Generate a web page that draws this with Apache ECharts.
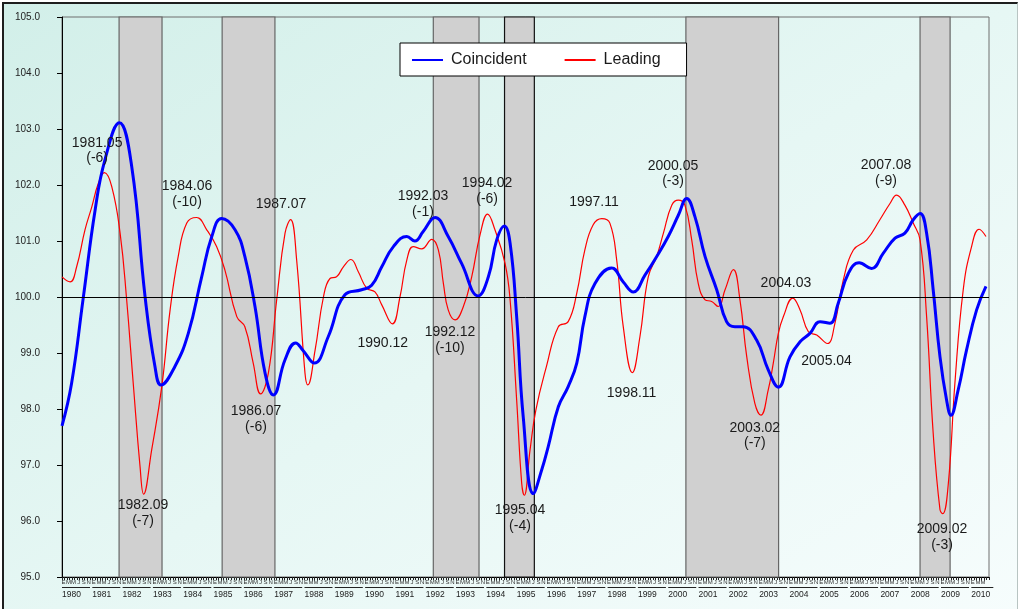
<!DOCTYPE html>
<html>
<head>
<meta charset="utf-8">
<script src="https://cdn.jsdelivr.net/npm/echarts@6/dist/echarts.min.js"></script>
<style>
  html, body { margin: 0; padding: 0; background: #ffffff; }
  #frame {
    position: absolute; left: 2px; top: 2px; width: 1013px; height: 640px;
    border-left: 2px solid #1e1e1e; border-top: 2px solid #1e1e1e; border-right: 1px solid #b8c4c2;
    background: linear-gradient(to bottom right, #d2efe9 0%, #e6f7f4 50%, #f7fdfd 100%);
  }
  #chart { position: absolute; left: 0; top: 0; width: 1019px; height: 609px; }
</style>
</head>
<body>
<div id="frame"></div>
<div id="chart"></div>
<script>
// Months counted from January 1980 (0 = Jan 1980)
const coincidentMonths = [0, 3.8, 8.4, 13.1, 17.0, 22.7, 27.6, 32.9, 36.8, 39.2, 44.7, 50.0, 55.3, 59.3, 63.2, 68.5, 72.4, 76.4, 80.4, 83.7, 88.3, 92.5, 95.5, 99.9, 105.4, 112.0, 118.6, 122.6, 126.6, 131.2, 136.5, 139.7, 143.0, 147.7, 152.9, 158.2, 164.8, 168.8, 172.1, 175.1, 177.4, 180.0, 182.6, 186.6, 189.9, 192.5, 196.5, 200.4, 203.8, 207.0, 211.0, 217.6, 222.2, 226.2, 230.8, 235.4, 240.0, 244.0, 247.3, 250.6, 254.6, 259.2, 263.1, 266.4, 269.7, 275.0, 279.6, 283.6, 288.2, 292.2, 296.1, 300.1, 304.0, 307.3, 311.3, 315.6, 320.5, 325.1, 329.8, 333.7, 337.0, 339.7, 342.3, 344.9, 347.6, 350.2, 351.9, 354.8, 358.1, 362.1, 365.8];
const coincidentValues = [97.70, 98.46, 99.98, 101.55, 102.45, 103.11, 102.33, 100.00, 98.76, 98.43, 98.76, 99.35, 100.36, 101.08, 101.40, 101.20, 100.72, 99.83, 98.64, 98.25, 98.88, 99.18, 99.04, 98.82, 99.29, 100.04, 100.13, 100.21, 100.54, 100.90, 101.08, 101.00, 101.17, 101.42, 101.08, 100.60, 100.02, 100.36, 101.02, 101.27, 100.96, 99.65, 97.86, 96.49, 96.91, 97.33, 98.04, 98.40, 98.82, 99.65, 100.24, 100.52, 100.27, 100.09, 100.39, 100.72, 101.08, 101.46, 101.76, 101.43, 100.72, 100.13, 99.56, 99.47, 99.47, 99.23, 98.70, 98.39, 98.93, 99.20, 99.35, 99.56, 99.53, 99.89, 100.42, 100.61, 100.51, 100.78, 101.05, 101.14, 101.38, 101.49, 101.14, 100.13, 98.93, 98.16, 97.89, 98.34, 99.05, 99.77, 100.19];

const leadingMonths = [0, 3.2, 5.8, 9.1, 11.8, 14.4, 16.8, 19.7, 23.0, 25.6, 28.2, 30.9, 32.3, 35.5, 39.5, 42.8, 46.0, 49.4, 53.3, 57.3, 61.2, 64.5, 69.2, 72.4, 75.7, 78.6, 81.7, 85.0, 88.3, 90.5, 92.9, 96.2, 97.3, 100.2, 103.5, 106.1, 108.7, 111.4, 114.4, 117.3, 120.6, 123.9, 126.6, 130.8, 133.8, 136.5, 139.1, 142.4, 146.4, 149.0, 151.0, 152.9, 155.6, 158.9, 162.2, 165.5, 168.5, 171.4, 175.4, 177.4, 180.0, 182.0, 183.0, 185.3, 187.6, 191.8, 196.5, 200.4, 203.8, 207.0, 210.3, 213.7, 216.9, 219.6, 222.2, 225.8, 228.8, 232.1, 235.4, 238.1, 241.4, 244.0, 246.6, 249.3, 251.9, 254.6, 257.2, 259.8, 262.5, 265.8, 268.4, 271.1, 274.3, 276.7, 279.6, 281.6, 283.6, 285.6, 289.3, 292.2, 295.5, 298.8, 303.0, 306.0, 309.3, 313.3, 318.6, 323.8, 327.8, 330.4, 333.7, 337.0, 339.7, 342.3, 344.9, 347.6, 348.7, 350.9, 353.5, 356.8, 360.1, 363.1, 365.8];
const leadingValues = [100.36, 100.27, 100.54, 101.20, 101.61, 102.03, 102.22, 101.97, 101.14, 99.95, 98.46, 96.97, 96.48, 97.27, 98.40, 99.77, 100.72, 101.32, 101.42, 101.20, 100.90, 100.48, 99.65, 99.47, 98.82, 98.27, 98.64, 99.95, 101.14, 101.38, 100.66, 98.64, 98.43, 99.05, 100.00, 100.33, 100.36, 100.54, 100.67, 100.45, 100.16, 100.09, 99.86, 99.52, 100.00, 100.66, 100.90, 100.86, 101.03, 100.84, 100.24, 99.77, 99.59, 99.83, 100.36, 101.11, 101.48, 101.20, 100.60, 99.95, 98.16, 96.67, 96.46, 97.27, 97.98, 98.76, 99.47, 99.56, 100.07, 100.84, 101.29, 101.40, 101.32, 100.66, 99.47, 98.65, 99.29, 100.36, 100.72, 101.14, 101.64, 101.73, 101.64, 101.02, 100.24, 99.95, 99.92, 99.83, 100.13, 100.49, 99.95, 98.93, 98.10, 97.89, 98.34, 98.82, 99.35, 99.65, 99.98, 99.77, 99.38, 99.32, 99.17, 99.53, 100.30, 100.84, 101.02, 101.38, 101.67, 101.82, 101.64, 101.32, 101.02, 99.65, 97.57, 96.20, 96.13, 96.67, 98.46, 100.13, 100.90, 101.21, 101.08];

// Recession periods (start, end) in months from Jan 1980
const recessionStart = [22.6, 63.4, 147.0, 175.2, 247.0, 339.7];
const recessionEnd   = [39.6, 84.3, 165.1, 187.0, 283.7, 351.6];

// Turning-point labels of the leading index and where they sit (month, index level)
const turningLabels = ['1981.05\n(-6)', '1982.09\n(-7)', '1984.06\n(-10)', '1986.07\n(-6)', '1987.07', '1990.12', '1992.03\n(-1)', '1992.12\n(-10)', '1994.02\n(-6)', '1995.04\n(-4)', '1997.11', '1998.11', '2000.05\n(-3)', '2003.02\n(-7)', '2004.03', '2005.04', '2007.08\n(-9)', '2009.02\n(-3)'];
const labelMonths = [13.9, 32.1, 49.5, 76.8, 86.7, 127.0, 142.9, 153.6, 168.3, 181.3, 210.6, 225.5, 241.9, 274.3, 286.6, 302.7, 326.2, 348.4];
const labelLevels = [102.61, 96.14, 101.84, 97.82, 101.66, 99.17, 101.66, 99.23, 101.89, 96.05, 101.69, 98.28, 102.20, 97.52, 100.25, 98.86, 102.21, 95.71];

// Axis labels
const monthLetters = ['E', 'F', 'M', 'A', 'M', 'J', 'J', 'A', 'S', 'O', 'N', 'D'];
const firstYear = 1980;
const lastYear = 2010;
const lastMonth = 367;
const yTicks = [95, 96, 97, 98, 99, 100, 101, 102, 103, 104, 105];

const FONT = '"Liberation Sans", Arial, sans-serif';

const zip = (xs, ys) => xs.map((x, i) => [x, ys[i]]);

const monthTickValues = [];
for (let m = 0; m <= lastMonth; m++) monthTickValues.push(m);
const monthLabelValues = [];
for (let m = 0; m < lastMonth - 1; m += 2) monthLabelValues.push(m + 0.6);
const yearValues = [];
for (let y = firstYear; y <= lastYear; y++) yearValues.push((y - firstYear) * 12);

const bandData = recessionStart.map((s, i) => [
  { xAxis: s, itemStyle: (i === 3 ? { borderColor: '#111' } : {}) },
  { xAxis: recessionEnd[i] }
]);

const labelPoints = turningLabels.map((t, i) => ({
  coord: [labelMonths[i], labelLevels[i]],
  value: t
}));

// legend swatch: a plain horizontal stroke
const lineIcon = 'path://M0,0 L31,0 L31,2.4 L0,2.4 Z';

const chart = echarts.init(document.getElementById('chart'), null, { renderer: 'canvas' });

chart.setOption({
  backgroundColor: 'transparent',
  animation: false,
  textStyle: { fontFamily: FONT },
  grid: {
    left: 62, right: 30, top: 17, bottom: 32,
    show: true, borderColor: '#6e6e6e', borderWidth: 1, backgroundColor: 'transparent'
  },
  legend: {
    data: [
      { name: 'Coincident', icon: 'rect' },
      { name: 'Leading', icon: 'rect' }
    ],
    left: 400, top: 43,
    backgroundColor: '#ffffff', borderColor: '#000000', borderWidth: 1, borderRadius: 0,
    padding: [8, 26, 7, 12],
    itemWidth: 31, itemHeight: 2, itemGap: 38,
    textStyle: { fontSize: 16, lineHeight: 18, color: '#1a1a1a', fontFamily: FONT, padding: [0, 0, 0, 3] }
  },
  xAxis: [
    {
      type: 'value', min: 0, max: lastMonth, position: 'bottom',
      splitLine: { show: false },
      axisLine: { show: true, onZero: false, lineStyle: { color: '#000', width: 1 } },
      axisTick: { show: true, customValues: monthTickValues, length: 3, lineStyle: { color: '#222', width: 1 } },
      axisLabel: {
        customValues: monthLabelValues, margin: 2, fontSize: 6, color: '#333', fontFamily: FONT,
        formatter: v => monthLetters[Math.floor(v) % 12]
      }
    },
    {
      type: 'value', min: 0, max: lastMonth, position: 'bottom', offset: 0,
      splitLine: { show: false },
      axisLine: { show: false },
      axisTick: { show: false },
      axisLabel: {
        customValues: yearValues, margin: 9, align: 'left', color: '#222', fontFamily: FONT,
        formatter: v => {
          const yr = firstYear + Math.round(v / 12);
          return (yr === lastYear ? '{s|}' : '{l|}') + '\n{y|' + yr + '}';
        },
        rich: {
          l: { width: 28, height: 1, lineHeight: 3, backgroundColor: '#222' },
          s: { width: 22, height: 1, lineHeight: 3, backgroundColor: '#222' },
          y: { fontSize: 8.5, lineHeight: 11, color: '#222', fontFamily: FONT }
        }
      }
    }
  ],
  yAxis: {
    type: 'value', min: yTicks[0], max: yTicks[yTicks.length - 1], interval: 1,
    splitLine: { show: false },
    axisLine: { show: true, lineStyle: { color: '#000', width: 1 } },
    axisTick: { show: true, length: 5, lineStyle: { color: '#000' } },
    axisLabel: { fontSize: 10, color: '#222', margin: 22, fontFamily: FONT, formatter: v => v.toFixed(1) }
  },
  series: [
    {
      name: 'Recesiones', type: 'line', data: [], silent: true, z: 1,
      markArea: {
        silent: true,
        itemStyle: { color: '#d0d0d0', borderColor: '#666', borderWidth: 1.2 },
        data: bandData
      }
    },
    {
      name: 'Leading', type: 'line', z: 3,
      data: zip(leadingMonths, leadingValues),
      smooth: 0.45, symbol: 'none',
      lineStyle: { color: '#ff0000', width: 1.2 },
      itemStyle: { color: '#ff0000' },
      markLine: {
        silent: true, symbol: 'none',
        label: { show: false },
        lineStyle: { color: '#000', width: 1, type: 'solid' },
        data: [{ yAxis: 100 }]
      },
      markPoint: {
        silent: true, symbol: 'circle', symbolSize: 0,
        label: {
          show: true, position: 'inside', formatter: p => p.value,
          fontSize: 14, lineHeight: 15.5, color: '#1a1a1a', fontFamily: FONT, align: 'center'
        },
        data: labelPoints
      }
    },
    {
      name: 'Coincident', type: 'line', z: 4,
      data: zip(coincidentMonths, coincidentValues),
      smooth: 0.45, symbol: 'none',
      lineStyle: { color: '#0000ff', width: 3 },
      itemStyle: { color: '#0000ff' }
    }
  ]
});
</script>
</body>
</html>
